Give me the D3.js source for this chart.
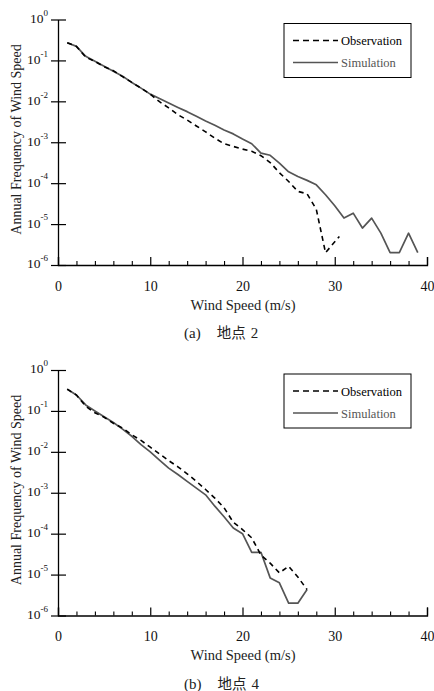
<!DOCTYPE html>
<html>
<head>
<meta charset="utf-8">
<script src="https://cdn.jsdelivr.net/npm/d3@7"></script>
<style>
  body { margin: 0; background: #fff; }
  svg text { font-family: "Liberation Serif", "Times New Roman", "DejaVu Serif", serif; }
</style>
</head>
<body>
<div id="chart-area"></div>
<script>
// wind speed bins (m/s)
var speedA = d3.range(1, 40);
var obsSpeedA = [1, 2, 3, 4, 5, 6, 7, 8, 9, 10, 11, 12, 13, 14, 15, 16, 17, 18, 19, 20,
  21, 22, 23, 24, 25, 26, 27, 28, 29, 30.5];
var obsA = [0.27, 0.22, 0.12, 0.095, 0.07, 0.056, 0.04, 0.029, 0.021, 0.015,
  0.0098, 0.0069, 0.0047, 0.0035, 0.0025, 0.0018, 0.00126, 0.00092, 0.00079, 0.00068,
  0.0006, 0.00047, 0.00032, 0.00018, 0.00011, 0.000063, 0.000055, 0.000023, 0.000002, 0.000005];
var simA = [0.27, 0.22, 0.126, 0.095, 0.072, 0.054, 0.041, 0.029, 0.021, 0.015,
  0.0117, 0.0091, 0.0071, 0.0056, 0.0043, 0.0033, 0.0026, 0.002, 0.0016, 0.0012,
  0.00092, 0.00054, 0.00048, 0.00031, 0.00019, 0.000145, 0.000117, 0.000091, 0.000052, 0.000028,
  0.000014, 0.0000185, 0.000008, 0.000014, 0.000006, 0.000002, 0.000002, 0.000006, 0.000002];

var speedB = d3.range(1, 28);
var obsB = [0.34, 0.245, 0.13, 0.09, 0.07, 0.05, 0.038, 0.026, 0.019, 0.013,
  0.0089, 0.0061, 0.0043, 0.0029, 0.0019, 0.0012, 0.00074, 0.00043, 0.00019, 0.000126,
  0.000079, 0.00003, 0.000019, 0.000011, 0.000016, 0.0000087, 0.0000043];
var simB = [0.34, 0.245, 0.14, 0.1, 0.072, 0.052, 0.036, 0.024, 0.015, 0.01,
  0.0063, 0.004, 0.0028, 0.0019, 0.0013, 0.00089, 0.00047, 0.00026, 0.000138, 0.0001,
  0.000035, 0.000035, 0.0000083, 0.0000063, 0.000002, 0.000002, 0.0000043];

var xTicks = [0, 10, 20, 30, 40];
var xMinor = d3.range(2, 40, 2).filter(d => d % 10 != 0);
var yTicks = [1, 1e-1, 1e-2, 1e-3, 1e-4, 1e-5, 1e-6];
var seriesNames = ["Observation", "Simulation"];
var captions = [["(a)", "地点", "2"], ["(b)", "地点", "4"]];

var width = 434;
var height = 691;
var simColor = "#555";
var serif = '"Liberation Serif", "Times New Roman", "DejaVu Serif", serif';

var svg = d3.select("#chart-area")
  .append("svg")
  .attr("width", width)
  .attr("height", height)
  .style("font-family", serif);

var x = d3.scaleLinear().domain([0, 40]).range([58, 427]);

function drawPanel(top, obsX, obsY, simX, simY, caption) {
  var g = svg.append("g").attr("transform", "translate(0, " + top + ")");

  var y = d3.scaleLog().domain([1e-6, 1]).range([245.5, 0]);

  // x axis, ticks pointing up
  g.append("g")
    .attr("transform", "translate(0, 245.5)")
    .call(d3.axisBottom(x).tickValues(xTicks).tickSize(-8).tickPadding(16).tickFormat(d3.format("d")))
    .call(ax => ax.attr("font-family", null))
    .call(ax => ax.select(".domain").attr("stroke-width", 1.3))
    .call(ax => ax.selectAll("line").attr("stroke-width", 1.2))
    .selectAll("text")
    .style("font-family", serif)
    .attr("font-size", "14px")
    .attr("fill", "#111");

  g.append("g")
    .attr("transform", "translate(0, 245.5)")
    .call(d3.axisBottom(x).tickValues(xMinor).tickSize(-4).tickFormat(""))
    .call(ax => ax.select(".domain").remove())
    .selectAll("line").attr("stroke-width", 1.1);

  // y axis, ticks crossing the line
  var yAxis = g.append("g")
    .attr("transform", "translate(58, 0)")
    .call(d3.axisLeft(y).tickValues(yTicks).tickSize(0).tickPadding(10))
    .call(ax => ax.attr("font-family", null))
    .call(ax => ax.select(".domain").attr("stroke-width", 1.3));
  yAxis.selectAll(".tick line")
    .attr("x1", -7).attr("x2", 8).attr("stroke-width", 1.2);
  yAxis.selectAll(".tick text")
    .style("font-family", serif)
    .attr("font-size", "13.5px")
    .attr("fill", "#111")
    .attr("dy", "0.22em")
    .text("10")
    .append("tspan")
    .attr("font-size", "9px")
    .attr("dy", "-0.8em")
    .text(d => Math.round(Math.log10(d)));

  g.append("text")
    .attr("transform", "rotate(-90)")
    .attr("x", -120)
    .attr("y", 20.5)
    .attr("text-anchor", "middle")
    .attr("font-size", "14px")
    .attr("fill", "#222")
    .style("font-family", serif)
    .text("Annual Frequency of Wind Speed");

  g.append("text")
    .attr("x", 243)
    .attr("y", 290)
    .attr("text-anchor", "middle")
    .attr("font-size", "14.5px")
    .attr("fill", "#222")
    .style("font-family", serif)
    .text("Wind Speed (m/s)");

  var cap = g.append("text")
    .attr("x", 184)
    .attr("y", 318.5)
    .attr("font-size", "15px")
    .attr("fill", "#222")
    .style("font-family", serif);
  cap.append("tspan").text(caption[0]);
  cap.append("tspan").attr("dx", 16).style("font-family", '"Noto Sans CJK JP"').attr("font-size", "14.5px").text(caption[1]);
  cap.append("tspan").attr("dx", 5).text(caption[2]);

  var line = d3.line().x(d => x(d[0])).y(d => y(d[1]));

  g.append("path")
    .datum(d3.zip(simX, simY))
    .attr("fill", "none")
    .attr("stroke", simColor)
    .attr("stroke-width", 1.7)
    .attr("stroke-linejoin", "round")
    .attr("d", line);

  g.append("path")
    .datum(d3.zip(obsX, obsY))
    .attr("fill", "none")
    .attr("stroke", "#000")
    .attr("stroke-width", 1.6)
    .attr("stroke-dasharray", "5,4")
    .attr("d", line);

  // legend
  var lg = g.append("g").attr("transform", "translate(284, 4)");
  lg.append("rect")
    .attr("width", 127).attr("height", 54)
    .attr("fill", "#fff").attr("stroke", "#000").attr("stroke-width", 1);
  lg.append("line")
    .attr("x1", 9).attr("x2", 54).attr("y1", 17).attr("y2", 17)
    .attr("stroke", "#000").attr("stroke-width", 1.6).attr("stroke-dasharray", "6,4");
  lg.append("line")
    .attr("x1", 9).attr("x2", 54).attr("y1", 39).attr("y2", 39)
    .attr("stroke", simColor).attr("stroke-width", 1.7);
  lg.append("text").attr("x", 57).attr("y", 21.5).attr("font-size", "12.5px").attr("fill", "#000")
    .style("font-family", serif).text(seriesNames[0]);
  lg.append("text").attr("x", 57).attr("y", 43.5).attr("font-size", "12.5px").attr("fill", simColor)
    .style("font-family", serif).text(seriesNames[1]);
}

drawPanel(19.5, obsSpeedA, obsA, speedA, simA, captions[0]);
drawPanel(370, speedB, obsB, speedB, simB, captions[1]);
</script>
</body>
</html>
